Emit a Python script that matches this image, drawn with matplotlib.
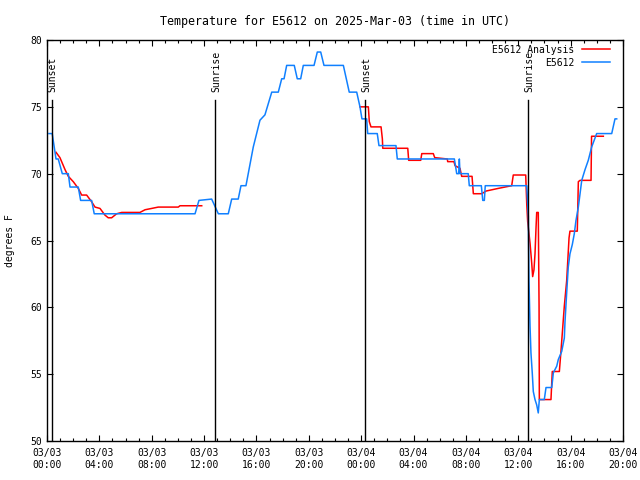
import matplotlib
matplotlib.use('Agg')
import matplotlib.pyplot as plt
import numpy as np

# hours since 2025-03-03 00:00 UTC, degrees F
obs_hours = [0.15, 0.40, 0.69, 0.86, 1.17, 1.63, 1.76, 2.39, 2.57, 3.41, 3.61, 11.31,
             11.61, 12.58, 13.09, 13.85, 14.11, 14.61, 14.82, 15.20, 15.76, 16.27,
             16.65, 17.17, 17.67, 17.93, 18.11, 18.31, 18.89, 19.12, 19.38, 19.58,
             20.40, 20.65, 20.91, 21.16, 22.64, 23.09, 23.66, 23.91, 24.06, 24.42,
             24.50, 25.23, 25.36, 26.66, 26.76, 31.12, 31.22, 31.30, 31.45, 31.50,
             31.55, 32.18, 32.26, 33.18, 33.29, 33.41, 33.48, 36.65, 36.77, 36.82,
             36.90, 36.97, 37.07, 37.15, 37.28, 37.41, 37.53, 37.61, 37.99, 38.12,
             38.56, 38.68, 38.94, 39.06, 39.32, 39.52, 39.57, 39.70, 39.82, 39.95,
             40.13, 40.28, 40.41, 40.59, 40.72, 40.85, 41.10, 41.35, 41.61, 41.99,
             43.14, 43.39, 43.52]
obs_temp = [73.0, 73.0, 71.1, 71.1, 70.0, 70.0, 69.0, 69.0, 68.0, 68.0, 67.0, 67.0,
            68.0, 68.1, 67.0, 67.0, 68.1, 68.1, 69.1, 69.1, 72.0, 74.0,
            74.4, 76.1, 76.1, 77.1, 77.1, 78.1, 78.1, 77.1, 77.1, 78.1,
            78.1, 79.1, 79.1, 78.1, 78.1, 76.1, 76.1, 75.0, 74.1, 74.1,
            73.0, 73.0, 72.1, 72.1, 71.1, 71.1, 70.5, 70.0, 70.0, 71.1,
            70.0, 70.0, 69.1, 69.1, 68.0, 68.0, 69.1, 69.1, 66.8, 62.0,
            58.6, 56.6, 55.1, 53.7, 53.1, 52.7, 52.1, 53.1, 53.1, 54.0,
            54.0, 55.1, 55.6, 56.1, 56.7, 57.7, 58.9, 61.1, 63.0, 64.0,
            64.7, 65.5, 66.5, 67.5, 68.5, 69.5, 70.3, 71.0, 72.0, 73.0,
            73.0, 74.1, 74.1]

ana_hours_1 = [0.69, 0.99, 1.38, 1.63, 2.01, 2.39, 2.65, 3.03, 3.41, 3.67, 4.05, 4.43,
               4.68, 4.94, 5.32, 5.71, 7.10, 7.49, 8.00, 8.50, 9.27, 9.40, 10.03,
               10.16, 11.82]
ana_temp_1 = [71.6, 71.2, 70.3, 69.8, 69.4, 68.9, 68.4, 68.4, 67.9, 67.5, 67.4, 66.9,
              66.7, 66.7, 67.0, 67.1, 67.1, 67.3, 67.4, 67.5, 67.5, 67.5, 67.5,
              67.6, 67.6]
ana_hours_2 = [23.91, 24.55, 24.62, 24.75, 25.52, 25.62, 25.65, 27.56, 27.63, 28.55,
               28.63, 29.51, 29.62, 30.58, 30.61, 31.09, 31.17, 31.55, 31.68, 32.47,
               32.57, 33.21, 33.54, 34.48, 35.50, 35.62, 36.57, 36.65, 36.72, 36.90,
               37.03, 37.10, 37.20, 37.28, 37.36, 37.41, 37.53, 37.59, 37.61, 38.50,
               38.60, 39.14, 39.27, 39.52, 39.70, 39.88, 39.95, 40.51, 40.59, 40.72,
               41.56, 41.60, 42.50]
ana_temp_2 = [75.0, 75.0, 73.9, 73.5, 73.5, 72.6, 71.9, 71.9, 71.0, 71.0,
              71.5, 71.5, 71.2, 71.1, 70.9, 70.9, 70.6, 70.4, 69.8, 69.8,
              68.5, 68.5, 68.7, 68.9, 69.1, 69.9, 69.9, 67.7, 66.4, 64.8,
              63.3, 62.3, 62.8, 64.0, 66.0, 67.1, 67.1, 60.1, 53.1, 53.1,
              55.2, 55.2, 56.8, 60.1, 62.0, 65.2, 65.7, 65.7, 69.4, 69.5,
              69.5, 72.8, 72.8]

sun_hours = [0.36, 12.86, 24.32, 36.77]
sun_names = ['Sunset', 'Sunrise', 'Sunset', 'Sunrise']

tick_hours = list(range(0, 45, 4))
tick_labels = ['03/%02d\n%02d:00' % (3 + h // 24, h % 24) for h in tick_hours]

plt.rcParams['font.family'] = ['DejaVu Sans Mono']
plt.rcParams['font.size'] = 7

fig = plt.figure(figsize=(6.4, 4.8), dpi=100)
ax = fig.add_axes([0.0734, 0.08125, 0.9, 0.8354])

red = '#ff0000'
blue = '#1080ff'

ax.plot(ana_hours_1, ana_temp_1, color=red, lw=1.1, label='E5612 Analysis')
ax.plot(ana_hours_2, ana_temp_2, color=red, lw=1.1)
ax.plot(obs_hours, obs_temp, color=blue, lw=1.1, label='E5612')

for h, name in zip(sun_hours, sun_names):
    ax.axvline(h, ymin=0, ymax=0.85, color='black', lw=1.0)
    ax.text(h + 0.08, 0.87, name, transform=ax.get_xaxis_transform(),
            rotation=90, ha='center', va='bottom')

ax.set_xlim(0, 44)
ax.set_ylim(50, 80)
ax.set_xticks(tick_hours)
ax.set_xticklabels(tick_labels)
ax.set_xticks(range(0, 45), minor=True)
ax.set_yticks(range(50, 81, 5))
ax.tick_params(which='both', direction='in', top=True, right=True)
ax.tick_params(which='major', length=4.5, width=0.8)
ax.tick_params(which='minor', length=2.5, width=0.8)
ax.tick_params(axis='x', pad=5)
for s in ax.spines.values():
    s.set_linewidth(1.0)

ax.set_title('Temperature for E5612 on 2025-Mar-03 (time in UTC)', pad=11)
ax.set_ylabel('degrees F')
ax.yaxis.set_label_coords(-0.056, 0.5)

ax.legend(loc='upper right', bbox_to_anchor=(0.978, 0.988), frameon=False,
          markerfirst=False, handlelength=2.9, handletextpad=0.8,
          borderpad=0, borderaxespad=0, labelspacing=0.3)

fig.savefig('out.png', dpi=100)
